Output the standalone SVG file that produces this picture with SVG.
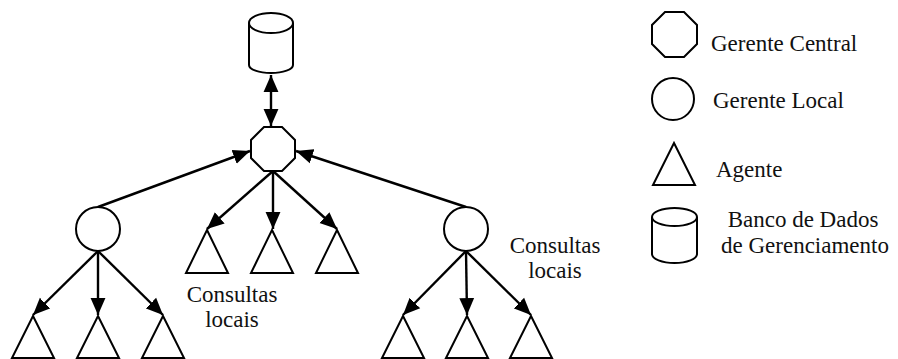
<svg xmlns="http://www.w3.org/2000/svg" width="898" height="359" viewBox="0 0 898 359">
<defs>
<style>
.s{fill:#fff;stroke:#000;stroke-width:2}
.c{stroke:#000;stroke-width:2.4;fill:none}
.t{font-family:'Liberation Serif','Tinos','Times New Roman','DejaVu Serif',serif;font-size:23px;fill:#111}
</style>
<marker id="ah" markerUnits="userSpaceOnUse" markerWidth="18" markerHeight="16" refX="16" refY="7" orient="auto-start-reverse" viewBox="0 0 17 14">
<path d="M0,0 L16,7 L0,14 z" fill="#000"/>
</marker>
</defs>
<rect width="898" height="359" fill="#fff"/>
<g id="connectors">
<line class="c" x1="271" y1="75" x2="271" y2="126" marker-start="url(#ah)" marker-end="url(#ah)"/>
<line class="c" x1="98" y1="207" x2="250" y2="151" marker-end="url(#ah)"/>
<line class="c" x1="466" y1="207" x2="296" y2="151" marker-end="url(#ah)"/>
<line class="c" x1="273" y1="171" x2="207" y2="229" marker-end="url(#ah)"/>
<line class="c" x1="273" y1="171" x2="273" y2="229" marker-end="url(#ah)"/>
<line class="c" x1="273" y1="171" x2="337" y2="229" marker-end="url(#ah)"/>
<line class="c" x1="98" y1="251" x2="33" y2="315" marker-end="url(#ah)"/>
<line class="c" x1="98" y1="251" x2="98" y2="315" marker-end="url(#ah)"/>
<line class="c" x1="98" y1="251" x2="163" y2="315" marker-end="url(#ah)"/>
<line class="c" x1="466" y1="251" x2="403" y2="315" marker-end="url(#ah)"/>
<line class="c" x1="466" y1="251" x2="467" y2="315" marker-end="url(#ah)"/>
<line class="c" x1="466" y1="251" x2="531" y2="315" marker-end="url(#ah)"/>
</g>
<g id="db">
<path class="s" d="M249,23 V65 A22,8 0 0 0 293,65 V23"/>
<ellipse class="s" cx="271" cy="23" rx="22" ry="10"/>
</g>
<g id="central">
<polygon class="s" points="264,127 282,127 295,140 295,158 282,171 264,171 251,158 251,140"/>
</g>
<g id="local-left"><circle class="s" cx="98" cy="229" r="22"/></g>
<g id="local-right"><circle class="s" cx="466" cy="229" r="22"/></g>
<g id="agent-m1"><polygon class="s" points="207,230 228,273 186,273"/></g>
<g id="agent-m2"><polygon class="s" points="272,230 293,273 251,273"/></g>
<g id="agent-m3"><polygon class="s" points="337,230 358,273 316,273"/></g>
<g id="agent-l1"><polygon class="s" points="33,316 54,358 12,358"/></g>
<g id="agent-l2"><polygon class="s" points="98,316 119,358 77,358"/></g>
<g id="agent-l3"><polygon class="s" points="163,316 184,358 142,358"/></g>
<g id="agent-r1"><polygon class="s" points="403,316 424,358 382,358"/></g>
<g id="agent-r2"><polygon class="s" points="467,316 488,358 446,358"/></g>
<g id="agent-r3"><polygon class="s" points="531,316 552,358 510,358"/></g>
<g id="label-left">
<text class="t" x="232" y="302" text-anchor="middle">Consultas</text>
<text class="t" x="232" y="327" text-anchor="middle">locais</text>
</g>
<g id="label-right">
<text class="t" x="555" y="253" text-anchor="middle">Consultas</text>
<text class="t" x="555" y="278" text-anchor="middle">locais</text>
</g>
<g id="legend-central">
<polygon class="s" points="665,12 684,12 697,25 697,44 684,57 665,57 652,44 652,25"/>
<text class="t" x="711" y="51">Gerente Central</text>
</g>
<g id="legend-local">
<circle class="s" cx="673" cy="99" r="21"/>
<text class="t" x="713" y="108">Gerente Local</text>
</g>
<g id="legend-agent">
<polygon class="s" points="674,143 695,185 653,185"/>
<text class="t" x="716" y="177">Agente</text>
</g>
<g id="legend-db">
<path class="s" d="M652,217 V254 A22.5,9 0 0 0 697,254 V217"/>
<ellipse class="s" cx="674.5" cy="217" rx="22.5" ry="9"/>
<text class="t" x="803" y="227" text-anchor="middle">Banco de Dados</text>
<text class="t" x="805" y="253" text-anchor="middle">de Gerenciamento</text>
</g>
</svg>
